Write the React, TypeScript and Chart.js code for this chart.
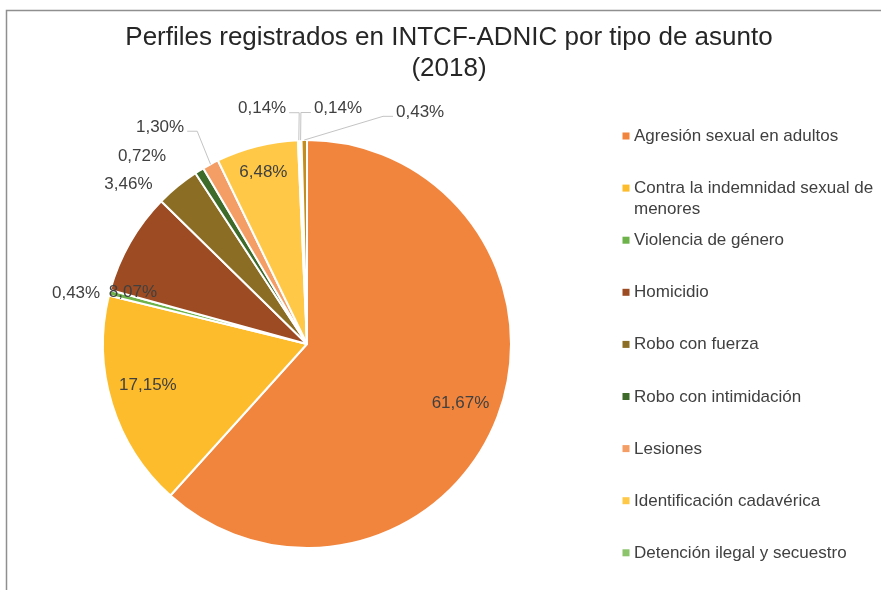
import React, { useEffect, useRef } from "react";
import { Chart, registerables } from "chart.js";

Chart.register(...registerables);

const titleLines = ["Perfiles registrados en INTCF-ADNIC por tipo de asunto", "(2018)"];

const categories = [
  "Agresión sexual en adultos",
  "Contra la indemnidad sexual de menores",
  "Violencia de género",
  "Homicidio",
  "Robo con fuerza",
  "Robo con intimidación",
  "Lesiones",
  "Identificación cadavérica",
  "Detención ilegal y secuestro",
  "Otros",
  "Sin especificar",
];

const values = [61.67, 17.15, 0.43, 8.07, 3.46, 0.72, 1.3, 6.48, 0.14, 0.14, 0.43];

const colors = [
  "#F1853D",
  "#FDBC2B",
  "#6DB34A",
  "#9C4B22",
  "#8C6D24",
  "#3E6A2A",
  "#F49D64",
  "#FFC947",
  "#8BC46A",
  "#B9703F",
  "#C48D1F",
];

// label placement: radial factor of radius, angular shift in degrees, leader line
const labelPlacement = [
  { f: 0.81, s: 0, leader: false },
  { f: 0.81, s: 2.5, leader: false },
  { f: 1.165, s: -2.1, leader: false },
  { f: 0.895, s: -13.2, leader: false },
  { f: 1.18, s: -8.8, leader: false },
  { f: 1.23, s: -9.5, leader: false },
  { f: 1.29, s: -5.9, leader: true },
  { f: 0.875, s: 0, leader: false },
  { f: 1.18, s: -8.5, leader: true },
  { f: 1.17, s: 9.3, leader: true },
  { f: 1.27, s: 26.8, leader: true },
];

const legendVisibleCount = 9;
const FONT = "'Liberation Sans', Arial, sans-serif";
const TEXT = "#404040";

const framePlugin = {
  id: "frame",
  beforeDraw(chart: any) {
    const ctx = chart.ctx;
    ctx.save();
    ctx.fillStyle = "#ffffff";
    ctx.fillRect(0, 0, chart.width, chart.height);
    ctx.strokeStyle = "#8f8f8f";
    ctx.lineWidth = 1.5;
    ctx.beginPath();
    ctx.moveTo(6.5, chart.height);
    ctx.lineTo(6.5, 10.5);
    ctx.lineTo(chart.width, 10.5);
    ctx.stroke();
    ctx.restore();
  },
};

const titlePlugin = {
  id: "customTitle",
  afterDraw(chart: any) {
    const ctx = chart.ctx;
    ctx.save();
    ctx.fillStyle = "#262626";
    ctx.font = `26px ${FONT}`;
    ctx.textAlign = "center";
    ctx.textBaseline = "alphabetic";
    titleLines.forEach((t, i) => ctx.fillText(t, 449, 45 + i * 31));
    ctx.restore();
  },
};

function fmt(v: number) {
  return v.toFixed(2).replace(".", ",") + "%";
}

const labelsPlugin = {
  id: "sliceLabels",
  afterDatasetsDraw(chart: any) {
    const ctx = chart.ctx;
    const meta = chart.getDatasetMeta(0);
    ctx.save();
    ctx.font = `17px ${FONT}`;
    ctx.textBaseline = "middle";
    ctx.textAlign = "center";
    meta.data.forEach((arc: any, i: number) => {
      const p = arc.getProps(["x", "y", "startAngle", "endAngle", "outerRadius"], true);
      const R = p.outerRadius - 1;
      const mid = (p.startAngle + p.endAngle) / 2;
      const cfg = labelPlacement[i];
      const a = mid + (cfg.s * Math.PI) / 180;
      const lx = p.x + Math.cos(a) * cfg.f * R;
      const ly = p.y + Math.sin(a) * cfg.f * R;
      const text = fmt(values[i]);
      const w = ctx.measureText(text).width;
      if (cfg.leader) {
        const ex = p.x + Math.cos(mid) * (R + 1);
        const ey = p.y + Math.sin(mid) * (R + 1);
        const side = lx < ex ? 1 : -1;
        const attachX = lx + side * (w / 2 + 3);
        const stubX = attachX + side * 10;
        const yy = ly + 4;
        ctx.strokeStyle = "#c4c4c4";
        ctx.lineWidth = 1;
        ctx.beginPath();
        ctx.moveTo(attachX, yy);
        ctx.lineTo(stubX, yy);
        ctx.lineTo(ex, ey);
        ctx.stroke();
      }
      ctx.fillStyle = TEXT;
      ctx.fillText(text, lx, ly);
    });
    ctx.restore();
  },
};

function wrap(ctx: any, text: string, maxW: number) {
  const words = text.split(" ");
  const lines: string[] = [];
  let cur = "";
  for (const w of words) {
    const test = cur ? cur + " " + w : w;
    if (ctx.measureText(test).width > maxW && cur) {
      lines.push(cur);
      cur = w;
    } else cur = test;
  }
  if (cur) lines.push(cur);
  return lines;
}

const legendPlugin = {
  id: "customLegend",
  afterDraw(chart: any) {
    const ctx = chart.ctx;
    ctx.save();
    ctx.font = `17px ${FONT}`;
    ctx.textBaseline = "alphabetic";
    ctx.textAlign = "left";
    const boxX = 622.5;
    const textX = 634;
    const maxW = chart.width - textX - 1;
    const bg = chart.data.datasets[0].backgroundColor;
    for (let i = 0; i < Math.min(legendVisibleCount, chart.data.labels.length); i++) {
      const base = 141 + i * 52.1;
      ctx.fillStyle = bg[i];
      ctx.fillRect(boxX, base - 8.5, 7, 7);
      ctx.fillStyle = TEXT;
      const lines = wrap(ctx, chart.data.labels[i], maxW);
      lines.forEach((l, j) => ctx.fillText(l, textX, base + j * 21));
    }
    ctx.restore();
  },
};

export default function App() {
  const ref = useRef<HTMLCanvasElement | null>(null);
  useEffect(() => {
    document.body.style.margin = "0";
    const canvas = ref.current!;
    const chart = new Chart(canvas, {
      type: "pie",
      data: {
        labels: categories,
        datasets: [
          {
            data: values,
            backgroundColor: colors,
            borderColor: "#ffffff",
            borderWidth: 2,
          },
        ],
      },
      options: {
        responsive: false,
        animation: false,
        layout: { padding: { left: 102, top: 139, right: 369, bottom: 41 } },
        plugins: {
          legend: { display: false },
          title: { display: false },
          tooltip: { enabled: false },
        },
      },
      plugins: [framePlugin, labelsPlugin, titlePlugin, legendPlugin],
    });
    return () => chart.destroy();
  }, []);
  return (
    <div style={{ width: 881, height: 590 }}>
      <canvas ref={ref} width={881} height={590} style={{ display: "block" }} />
    </div>
  );
}
